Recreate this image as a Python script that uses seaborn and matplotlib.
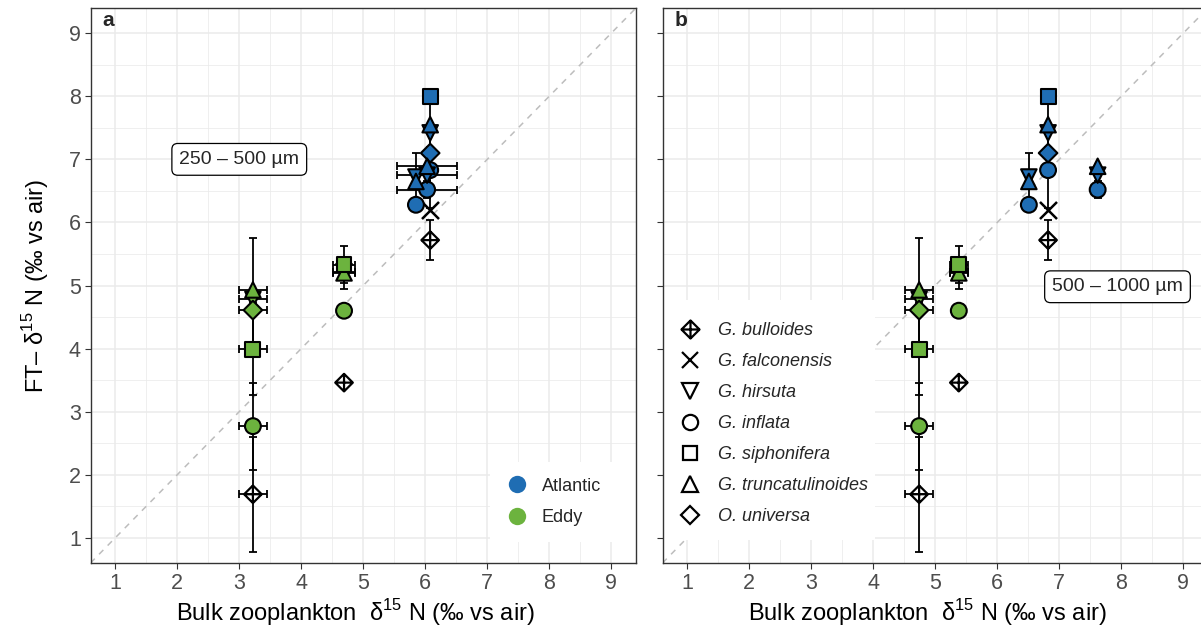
import numpy as np
import pandas as pd
import matplotlib
matplotlib.use("Agg")
import matplotlib.pyplot as plt
import seaborn as sns
from matplotlib.path import Path
from matplotlib.lines import Line2D
from matplotlib.patches import Rectangle
from matplotlib.ticker import MultipleLocator

# ---------------- data ----------------
region = ["Atlantic"] * 13 + ["Eddy"] * 11
species = [
    "G. siphonifera", "G. truncatulinoides", "G. hirsuta", "O. universa", "G. inflata", "G. falconensis", "G. bulloides",
    "G. truncatulinoides", "G. hirsuta", "G. inflata",
    "G. truncatulinoides", "G. hirsuta", "G. inflata",
    "G. truncatulinoides", "G. hirsuta", "O. universa", "G. siphonifera", "G. inflata", "G. bulloides",
    "G. siphonifera", "G. truncatulinoides", "G. hirsuta", "G. inflata", "G. bulloides",
]
ft = [8.00, 7.55, 7.42, 7.10, 6.83, 6.20, 5.72,
      6.65, 6.72, 6.28,
      6.89, 6.75, 6.52,
      4.93, 4.78, 4.61, 3.99, 2.77, 1.69,
      5.33, 5.20, 5.22, 4.60, 3.46]
ft_sd = [0.00, 0.35, 0.00, 0.00, 0.60, 0.00, 0.32,
         0.45, 0.00, 0.00,
         0.00, 0.00, 0.13,
         0.82, 0.00, 0.00, 0.73, 0.69, 0.91,
         0.29, 0.25, 0.00, 0.00, 0.00]
bulk_250 = [6.08] * 7 + [5.85] * 3 + [6.03] * 3 + [3.22] * 6 + [4.69] * 5
bulk_250_sd = [0.0] * 7 + [0.0] * 3 + [0.48] * 3 + [0.22] * 6 + [0.18, 0.18, 0.18, 0.0, 0.0]
bulk_500 = [6.82] * 7 + [6.51] * 3 + [7.62] * 3 + [4.74] * 6 + [5.38] * 5
bulk_500_sd = [0.0] * 7 + [0.0] * 3 + [0.0] * 3 + [0.22] * 6 + [0.15, 0.15, 0.15, 0.0, 0.0]

species_order = ["G. bulloides", "G. falconensis", "G. hirsuta", "G. inflata",
                 "G. siphonifera", "G. truncatulinoides", "O. universa"]
regions = ["Atlantic", "Eddy"]
panel_labels = ["a", "b"]
size_labels = ["250 – 500 µm", "500 – 1000 µm"]
tick_values = [1, 2, 3, 4, 5, 6, 7, 8, 9]

df = pd.DataFrame(dict(region=region, species=species, ft=ft, ft_sd=ft_sd,
                       b250=bulk_250, b250_sd=bulk_250_sd,
                       b500=bulk_500, b500_sd=bulk_500_sd))

# ---------------- style ----------------
sns.set_theme(style="white")
plt.rcParams["font.family"] = ["Liberation Sans", "DejaVu Sans"]
plt.rcParams["mathtext.fontset"] = "custom"
plt.rcParams["mathtext.rm"] = "Liberation Sans"

pal = {"Atlantic": "#1f6db3", "Eddy": "#6cb33e"}

# diamond with plus (ggplot shape 9)
dp_verts = [(0, 1), (1, 0), (0, -1), (-1, 0), (0, 1), (0, 1), (0, -1), (-1, 0), (1, 0)]
dp_codes = [Path.MOVETO, Path.LINETO, Path.LINETO, Path.LINETO, Path.CLOSEPOLY,
            Path.MOVETO, Path.LINETO, Path.MOVETO, Path.LINETO]
diamond_plus = Path(dp_verts, dp_codes)

filled_markers = {"G. hirsuta": "v", "G. inflata": "o", "G. siphonifera": "s",
                  "G. truncatulinoides": "^", "O. universa": "D"}
marker_size = {"G. hirsuta": 125, "G. inflata": 130, "G. siphonifera": 115,
               "G. truncatulinoides": 125, "O. universa": 90}

W, H = 1201, 635
fig = plt.figure(figsize=(W / 100, H / 100), dpi=100)


def add_ax(l, t, r, b):
    return fig.add_axes([l / W, 1 - b / H, (r - l) / W, (b - t) / H])


axes = [add_ax(90.5, 8, 636, 563), add_ax(662.5, 8, 1208, 563)]
cols = [("b250", "b250_sd"), ("b500", "b500_sd")]

for i, ax in enumerate(axes):
    xc, xsd = cols[i]
    ax.set_xlim(0.6, 9.4)
    ax.set_ylim(0.6, 9.4)
    ax.set_xticks(tick_values)
    ax.set_yticks(tick_values)
    ax.xaxis.set_minor_locator(MultipleLocator(0.5))
    ax.yaxis.set_minor_locator(MultipleLocator(0.5))
    ax.grid(which="major", color="#EBEBEB", lw=1.1)
    ax.grid(which="minor", color="#EBEBEB", lw=0.55)
    ax.set_axisbelow(True)
    for s in ax.spines.values():
        s.set_color("#333333")
        s.set_linewidth(1.0)
        s.set_zorder(8)
    ax.tick_params(which="major", length=4, width=0.8, color="#333333",
                   labelsize=15.5, labelcolor="#4D4D4D", left=True, bottom=True, pad=3)
    ax.tick_params(which="minor", length=0)
    ax.axline((1, 1), slope=1, color="#BDBDBD", lw=1.1, ls=(0, (4, 4)), zorder=1)

    # error bars
    ye = df[df.ft_sd > 0]
    ax.errorbar(ye[xc], ye.ft, yerr=ye.ft_sd, fmt="none", ecolor="black",
                elinewidth=1.3, capsize=3, capthick=1.3, zorder=2)
    xe = df[df[xsd] > 0]
    ax.errorbar(xe[xc], xe.ft, xerr=xe[xsd], fmt="none", ecolor="black",
                elinewidth=1.3, capsize=3, capthick=1.3, zorder=2)

    # points
    for sp in ["G. bulloides", "G. falconensis", "G. inflata", "G. hirsuta",
               "O. universa", "G. truncatulinoides", "G. siphonifera"]:
        sub = df[df.species == sp]
        if sp == "G. bulloides":
            ax.scatter(sub[xc], sub.ft, marker=diamond_plus, s=160,
                       facecolors="none", edgecolors="black", linewidths=1.6, zorder=3)
        elif sp == "G. falconensis":
            sns.scatterplot(data=sub, x=xc, y="ft", marker="x", s=150, color="black",
                            linewidth=1.8, legend=False, ax=ax, zorder=3)
        else:
            sns.scatterplot(data=sub, x=xc, y="ft", hue="region", palette=pal,
                            hue_order=regions, marker=filled_markers[sp],
                            s=marker_size[sp], edgecolor="black", linewidth=1.5,
                            legend=False, ax=ax, zorder=3)

    ax.set_xlabel("Bulk zooplankton  δ$^{15}$ N (‰ vs air)", fontsize=17,
                  color="black")
    ax.xaxis.set_label_coords(0.485, -0.062)
    ax.text(0.022, 0.995, panel_labels[i], transform=ax.transAxes, ha="left",
            va="top", fontsize=15, fontweight="bold")

axes[0].set_ylabel("FT– δ$^{15}$ N (‰ vs air)", fontsize=17, color="black", labelpad=13)
axes[1].set_ylabel("")
axes[1].tick_params(labelleft=False)

box = dict(boxstyle="round,pad=0.38,rounding_size=0.3", fc="white", ec="black", lw=0.9)
axes[0].text(3.0, 7.0, size_labels[0], ha="center", va="center", fontsize=14,
             bbox=box, zorder=5)
axes[1].text(7.94, 4.98, size_labels[1], ha="center", va="center", fontsize=14,
             bbox=box, zorder=5)

# legend backgrounds (white boxes like ggplot legend.background)
axes[0].add_patch(Rectangle((0.732, 0.038), 0.268, 0.144, transform=axes[0].transAxes,
                            fc="white", ec="none", zorder=5))
axes[1].add_patch(Rectangle((0.0, 0.041), 0.39, 0.432, transform=axes[1].transAxes,
                            fc="white", ec="none", zorder=5))

h_reg = [Line2D([], [], marker="o", ls="", markersize=12.5, markerfacecolor=pal[r],
                markeredgewidth=0, label=r) for r in regions]
leg1 = axes[0].legend(handles=h_reg, loc="center left", bbox_to_anchor=(0.755, 0.11),
                      frameon=False, fontsize=13, labelspacing=0.8,
                      handletextpad=0.58, borderpad=0.0, handlelength=1.6,
                      borderaxespad=0)
leg1.set_zorder(6)

sp_marker = {"G. bulloides": diamond_plus, "G. falconensis": "x", **filled_markers}
sp_ms = {"G. bulloides": 13, "G. falconensis": 11, "G. hirsuta": 11.5, "G. inflata": 11,
         "G. siphonifera": 10, "G. truncatulinoides": 11.5, "O. universa": 9.5}
h_sp = [Line2D([], [], marker=sp_marker[s], ls="", markersize=sp_ms[s],
               markerfacecolor="none", markeredgecolor="black", markeredgewidth=1.6,
               label=s) for s in species_order]
leg2 = axes[1].legend(handles=h_sp, loc="center left", bbox_to_anchor=(0.024, 0.251),
                      frameon=False, labelspacing=0.77,
                      handletextpad=0.75, borderpad=0.0, handlelength=1.6,
                      borderaxespad=0, prop={"style": "italic", "size": 13})
leg2.set_zorder(6)

fig.savefig("out.png", dpi=100)
